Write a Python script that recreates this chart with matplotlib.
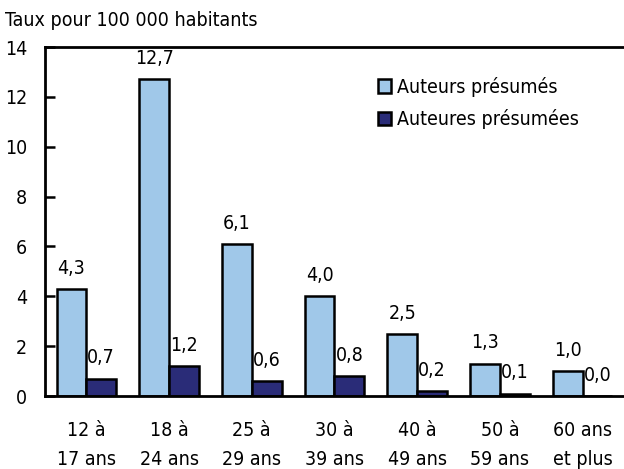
import matplotlib
matplotlib.use("Agg")
import matplotlib.pyplot as plt
from matplotlib.patches import Patch
import numpy as np

categories = ["12 à\n17 ans", "18 à\n24 ans", "25 à\n29 ans", "30 à\n39 ans",
              "40 à\n49 ans", "50 à\n59 ans", "60 ans\net plus"]
auteurs = [4.3, 12.7, 6.1, 4.0, 2.5, 1.3, 1.0]
auteures = [0.7, 1.2, 0.6, 0.8, 0.2, 0.1, 0.0]
yticks = [0, 2, 4, 6, 8, 10, 12, 14]
series_names = ["Auteurs présumés", "Auteures présumées"]

light = "#A0C8E9"
dark = "#2A2C78"
plt.rcParams['font.family'] = ['DejaVu Sans']
plt.rcParams['font.stretch'] = 'condensed'

fig = plt.figure(figsize=(6.24, 4.69), dpi=100)
ax = fig.add_axes([45/624, 1-396/469, 579/624, 349/469])

x = np.arange(len(categories))
w = 0.36
ax.bar(x - w/2, auteurs, w, color=light, edgecolor="black", linewidth=1.8)
ax.bar(x + w/2, auteures, w, color=dark, edgecolor="black", linewidth=1.8)

fs = 14
for xi, v in zip(x, auteurs):
    ax.annotate(f"{v:.1f}".replace(".", ","), (xi - w/2, v), xytext=(0, 8),
                textcoords="offset points", ha="center", va="bottom", fontsize=fs)
for xi, v in zip(x, auteures):
    ax.annotate(f"{v:.1f}".replace(".", ","), (xi + w/2, v), xytext=(0, 8),
                textcoords="offset points", ha="center", va="bottom", fontsize=fs)

ax.set_xlim(-0.5, len(categories) - 0.5)
ax.set_ylim(0, 14)
ax.set_yticks(yticks)
ax.set_yticklabels([str(t) for t in yticks], fontsize=fs)
ax.tick_params(axis="y", direction="in", length=7, width=1.8, pad=13)
ax.set_xticks(x)
ax.set_xticklabels(categories, fontsize=fs, linespacing=1.65)
ax.tick_params(axis="x", length=0, pad=18)
for s in ["left", "bottom", "top"]:
    ax.spines[s].set_linewidth(2)
ax.spines["right"].set_visible(False)

fig.text(5/624, 1-20/469, "Taux pour 100 000 habitants", fontsize=fs, va="center", ha="left")

handles = [Patch(facecolor=light, edgecolor="black", linewidth=1.8),
           Patch(facecolor=dark, edgecolor="black", linewidth=1.8)]
ax.legend(handles, series_names, loc="upper left", bbox_to_anchor=(325/579, 1-22/349),
          frameon=False, fontsize=fs, handlelength=0.7, handleheight=0.7,
          handletextpad=0.3, labelspacing=0.65, borderaxespad=0)

fig.savefig("out.png", dpi=100)
